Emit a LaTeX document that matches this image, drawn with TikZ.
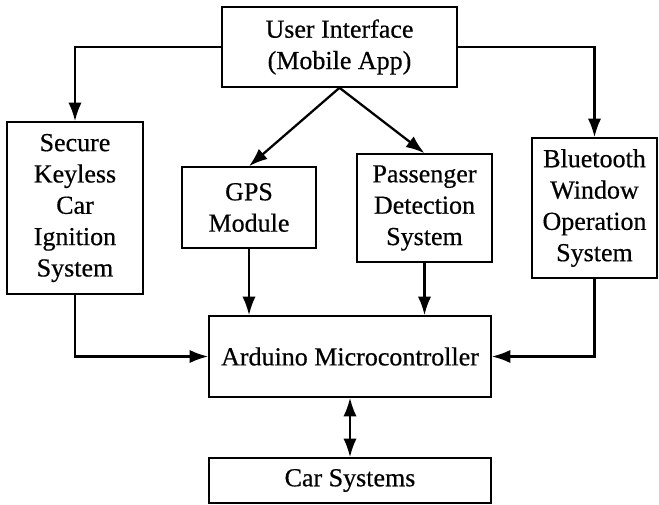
\documentclass[tikz,border=0pt]{standalone}
\usepackage{fontspec}
\setmainfont{Liberation Serif}[FakeBold=0.5]
\usetikzlibrary{arrows.meta}

\begin{document}
\begin{tikzpicture}[x=0.75pt, y=-0.75pt,
                block/.style={draw, line width=1.2pt, align=center, inner sep=0pt,
                    font=\fontsize{19.5}{23.5}\selectfont},
                link/.style={line width=1.7pt, -{Latex[length=14pt,width=10pt]}}]
                \useasboundingbox (0,0) rectangle (659,505);
                \node[block, minimum width=176.25pt, minimum height=60pt] (ui) at (339.5,47) {User Interface\\(Mobile App)};
                \node[block, minimum width=102pt, minimum height=129pt] (key) at (75,208) {Secure\\Keyless\\Car\\Ignition\\System};
                \node[block, minimum width=100.5pt, minimum height=60.75pt] (gps) at (249,207.5) {GPS\\Module};
                \node[block, minimum width=101.25pt, minimum height=81pt] (pds) at (424.5,208) {Passenger\\Detection\\System};
                \node[block, minimum width=93.75pt, minimum height=105pt] (bwo) at (594.5,208) {Bluetooth\\Window\\Operation\\System};
                \node[block, minimum width=211.5pt, minimum height=60.75pt] (ard) at (350,356.5) {Arduino Microcontroller};
                \node[block, minimum width=211.5pt, minimum height=33.75pt] (car) at (350,480.5) {Car Systems};
                \draw[link] (ui.west) -| (key.north);
                \draw[link] (ui.east) -| (bwo.north);
                \draw[link] (ui.south) -- (gps.north);
                \draw[link] (ui.south) -- (pds.north);
                \draw[link] (gps.south) -- (gps.south |- ard.north);
                \draw[link] (pds.south) -- (pds.south |- ard.north);
                \draw[link] (key.south) |- (ard.west);
                \draw[link] (bwo.south) |- (ard.east);
                \draw[link, {Latex[length=14pt,width=10pt]}-{Latex[length=14pt,width=10pt]}] (ard.south) -- (car.north);
            \end{tikzpicture}
\end{document}
